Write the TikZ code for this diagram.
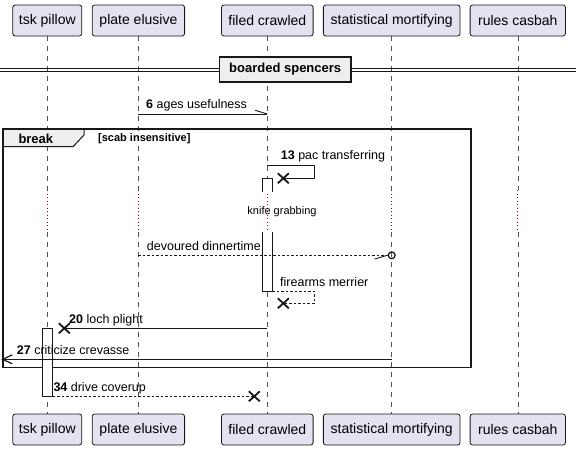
\documentclass[tikz,border=0pt]{standalone}
\usepackage{fontspec}
\setmainfont{Liberation Sans}
\definecolor{ink}{HTML}{181818}
\definecolor{partfill}{HTML}{E2E2F0}
\definecolor{grpfill}{HTML}{EEEEEE}
\definecolor{delaydot}{HTML}{8A0030}
\newcommand\pfont{\fontsize{14pt}{16pt}\selectfont}
\newcommand\mfont{\fontsize{12.5pt}{15pt}\selectfont}
\newcommand\sfont{\fontsize{11pt}{13pt}\selectfont}
\newcommand\gfont{\fontsize{13pt}{15pt}\selectfont}
\begin{document}
\begin{tikzpicture}[x=1pt,y=-1pt,
  partbox/.style={draw=ink, line width=0.8pt, fill=partfill, rounded corners=2.5pt, minimum height=31pt, inner sep=0pt, font=\pfont, text=black},
  life/.style={draw=ink!75, line width=0.6pt, dash pattern=on 5pt off 5pt},
  delayline/.style={draw=delaydot, line width=1pt, dash pattern=on 1pt off 2.5pt},
  msg/.style={draw=ink, line width=0.9pt},
  dmsg/.style={draw=ink, line width=0.9pt, dash pattern=on 2.5pt off 2pt},
  xmark/.style={draw=ink, line width=1.8pt},
  barline/.style={draw=ink, line width=0.9pt},
  lbl/.style={anchor=base west, inner sep=0pt, font=\mfont, text=black},
  xcross/.pic={\draw[xmark] (-5.5,-5) -- (5.5,5) (-5.5,5) -- (5.5,-5);}
]
\path[use as bounding box] (0,0) rectangle (576,450);
\fill[white] (0,0) rectangle (576,450);

% participants and lifelines
\foreach \n/\x/\w/\t in {A/47.3/69/tsk pillow,B/138.4/92.4/plate elusive,C/267.3/91.6/filed crawled,D/391.7/136.7/statistical mortifying,E/517.8/95.4/rules casbah}{
  \coordinate (d1\n) at (\x,190);
  \coordinate (d2\n) at (\x,232);
  \coordinate (l1\n) at (\x,36);
  \coordinate (l2\n) at (\x,414);
  \draw[life] (l1\n) -- (d1\n);
  \draw[delayline] (d1\n) -- (d2\n);
  \draw[life] (d2\n) -- (l2\n);
  \node[partbox, minimum width=\w pt] (t\n) at (\x,20.5) {\t};
  \node[partbox, minimum width=\w pt] (b\n) at (\x,429.5) {\t};
}

% divider
\draw[ink, line width=0.9pt] (0,68.2) -- (576,68.2);
\draw[ink, line width=0.9pt] (0,71.2) -- (576,71.2);
\node[draw=ink, line width=1.6pt, fill=grpfill, minimum width=131.7pt, minimum height=25pt, inner sep=0pt, font=\bfseries\gfont] (div) at (285.2,69.2) {boarded spencers};

% message 6
\coordinate (m6s) at (138.4,114);
\coordinate (m6e) at (267.3,114);
\draw[msg] (m6s) -- (m6e);
\draw[msg] (m6e) -- ++(-12,-3.7);
\node[lbl] (t6) at (146,108.6) {\textbf{6} ages usefulness};

% break frame
\draw[ink, line width=1pt, fill=grpfill] (2.7,129.3) -- (84,129.3) -- (84,135) -- (73,146.7) -- (2.7,146.7) -- cycle;
\draw[ink, line width=1.7pt] (2.7,129.3) rectangle (470.7,367.5);
\node[anchor=base west, inner sep=0pt, font=\bfseries\gfont] (brk) at (18.3,143.3) {break};
\node[anchor=base west, inner sep=0pt, font=\bfseries\sfont] (brkc) at (98,141.7) {[scab insensitive]};

% activation bars
\fill[white] (262.3,178.3) rectangle (272.3,191.7);
\draw[barline] (262.3,191.7) -- (262.3,178.3) -- (272.3,178.3) -- (272.3,191.7);
\fill[white] (262.3,231.7) rectangle (272.3,291);
\draw[barline] (262.3,231.7) -- (262.3,291) -- (272.3,291) -- (272.3,231.7);
\draw[barline, fill=white] (42.3,328.3) rectangle (52.7,396.3);

% message 13
\coordinate (m13s) at (267.3,165);
\coordinate (m13e) at (283.3,178.3);
\draw[msg] (m13s) -- (314,165) -- (314,178.3) -- (m13e);
\pic at (m13e) {xcross};
\node[lbl] (t13) at (280.7,159.5) {\textbf{13} pac transferring};

% delay
\node[inner sep=0pt, font=\sfont] (dly) at (282,212) {knife grabbing};

% devoured dinnertime
\coordinate (mds) at (138.4,255.3);
\coordinate (mde) at (391.7,255.3);
\draw[dmsg] (mds) -- ([xshift=-3.8pt]mde);
\draw[msg] ([xshift=-4.5pt]mde) -- ++(-12.5,3.7);
\draw[ink, line width=1.3pt] (mde) circle[radius=3.4pt];
\node[lbl] (tdd) at (146.7,250.3) {devoured dinnertime};

% firearms merrier
\coordinate (mfs) at (272.3,291);
\coordinate (mfe) at (283.3,303.3);
\draw[dmsg] (mfs) -- (314,291) -- (314,303.3) -- (mfe);
\pic at (mfe) {xcross};
\node[lbl] (tfm) at (280,286) {firearms merrier};

% message 20
\coordinate (m20s) at (267.3,328.3);
\coordinate (m20e) at (64.3,328.3);
\draw[msg] (m20s) -- (m20e);
\pic at (m20e) {xcross};
\node[lbl] (t20) at (69,323.5) {\textbf{20} loch plight};

% message 27
\coordinate (m27s) at (391.7,359.3);
\coordinate (m27e) at (2.7,359.3);
\draw[msg] (m27s) -- (m27e);
\draw[msg, line width=1.2pt] (12.3,354.8) -- (m27e) -- (12.3,363.8);
\node[lbl] (t27) at (16.7,354.2) {\textbf{27} criticize crevasse};

% message 34
\coordinate (m34s) at (52.7,396.3);
\coordinate (m34e) at (254.3,396.3);
\draw[dmsg] (m34s) -- (m34e);
\pic at (m34e) {xcross};
\node[lbl] (t34) at (53.3,391.7) {\textbf{34} drive coverup};
\end{tikzpicture}
\end{document}
